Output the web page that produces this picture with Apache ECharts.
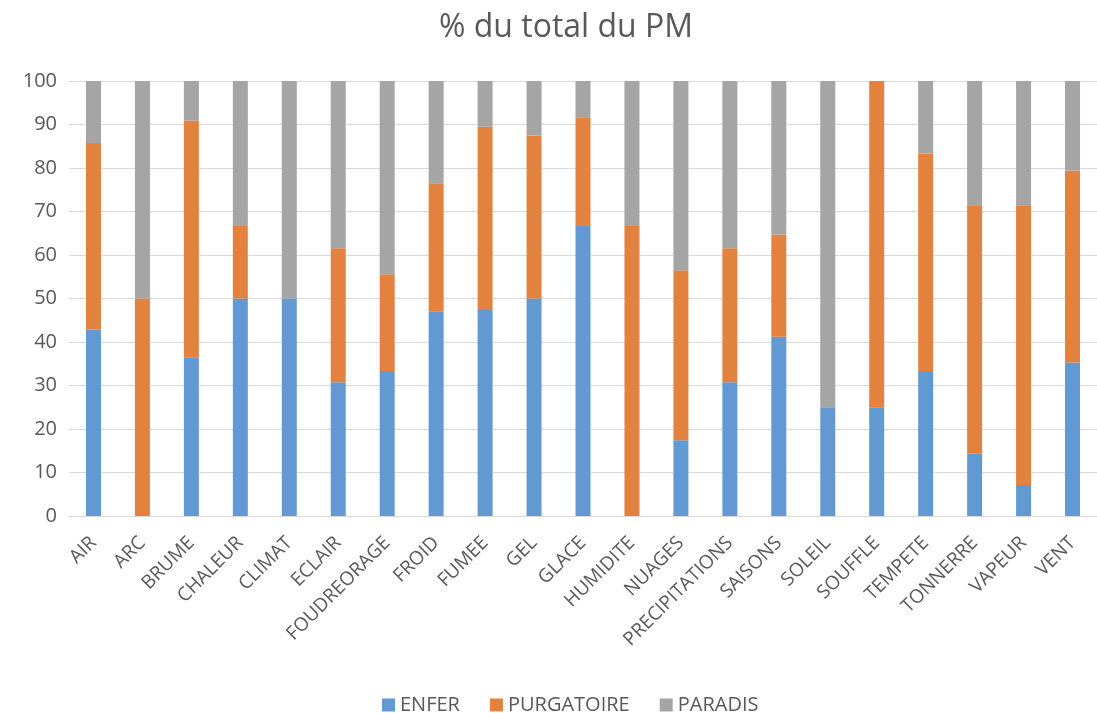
<!DOCTYPE html>
<html>
<head>
<meta charset="utf-8">
<title>% du total du PM</title>
<script src="https://cdn.jsdelivr.net/npm/echarts@6/dist/echarts.min.js"></script>
<style>
  html, body { margin: 0; padding: 0; background: #ffffff; }
  #chart { width: 1097px; height: 713px; }
</style>
</head>
<body>
<div id="chart"></div>
<script>
// Catégories (thèmes) et parts en % pour chaque cantique
const categories = ['AIR', 'ARC', 'BRUME', 'CHALEUR', 'CLIMAT', 'ECLAIR', 'FOUDREORAGE', 'FROID',
  'FUMEE', 'GEL', 'GLACE', 'HUMIDITE', 'NUAGES', 'PRECIPITATIONS', 'SAISONS', 'SOLEIL',
  'SOUFFLE', 'TEMPETE', 'TONNERRE', 'VAPEUR', 'VENT'];

const enfer      = [42.86, 0, 36.36, 50, 50, 30.77, 33.33, 47.06, 47.37, 50, 66.67, 0, 17.39, 30.77, 41.18, 25, 25, 33.33, 14.29, 7.14, 35.29];
const purgatoire = [42.86, 50, 54.55, 16.67, 0, 30.77, 22.22, 29.41, 42.11, 37.5, 25, 66.67, 39.13, 30.77, 23.53, 0, 75, 50, 57.14, 64.29, 44.12];
const paradis    = [14.29, 50, 9.09, 33.33, 50, 38.46, 44.44, 23.53, 10.53, 12.5, 8.33, 33.33, 43.48, 38.46, 35.29, 75, 0, 16.67, 28.57, 28.57, 20.59];

const seriesNames = ['ENFER', 'PURGATOIRE', 'PARADIS'];
const yTicks = { min: 0, max: 100, interval: 10 };

const FONT = '"Open Sans", "Noto Sans", sans-serif';
const TEXT = '#595959';
const colors = ['#6399D2', '#E3823F', '#A5A5A5'];

const chart = echarts.init(document.getElementById('chart'), null, { renderer: 'canvas' });

function barSeries(name, data, color) {
  return {
    name: name,
    type: 'bar',
    stack: 'total',
    barWidth: 15,
    data: data,
    itemStyle: { color: color },
    emphasis: { disabled: true }
  };
}

chart.setOption({
  animation: false,
  backgroundColor: '#ffffff',
  title: {
    text: '% du total du PM',
    left: 561,
    textAlign: 'center',
    top: 7,
    textStyle: { fontFamily: FONT, fontSize: 32, fontWeight: 'normal', color: TEXT }
  },
  legend: {
    data: seriesNames,
    left: 377,
    top: 690,
    icon: 'rect',
    itemWidth: 13,
    itemHeight: 13,
    itemGap: 30,
    textStyle: { fontFamily: FONT, fontSize: 20, color: TEXT }
  },
  grid: {
    left: 69,
    top: 81,
    width: 1033,
    height: 435,
    containLabel: false
  },
  xAxis: {
    type: 'category',
    data: categories,
    axisLine: { lineStyle: { color: '#D9D9D9', width: 1 } },
    axisTick: { show: false },
    axisLabel: {
      rotate: 45,
      interval: 0,
      margin: 24,
      fontFamily: FONT,
      fontSize: 19,
      color: TEXT
    }
  },
  yAxis: {
    type: 'value',
    min: yTicks.min,
    max: yTicks.max,
    interval: yTicks.interval,
    axisLine: { show: false },
    axisTick: { show: false },
    splitLine: { lineStyle: { color: '#D9D9D9', width: 1 } },
    axisLabel: {
      margin: 12,
      fontFamily: FONT,
      fontSize: 20,
      color: TEXT
    }
  },
  series: [
    barSeries(seriesNames[0], enfer, colors[0]),
    barSeries(seriesNames[1], purgatoire, colors[1]),
    barSeries(seriesNames[2], paradis, colors[2])
  ]
});
</script>
</body>
</html>
